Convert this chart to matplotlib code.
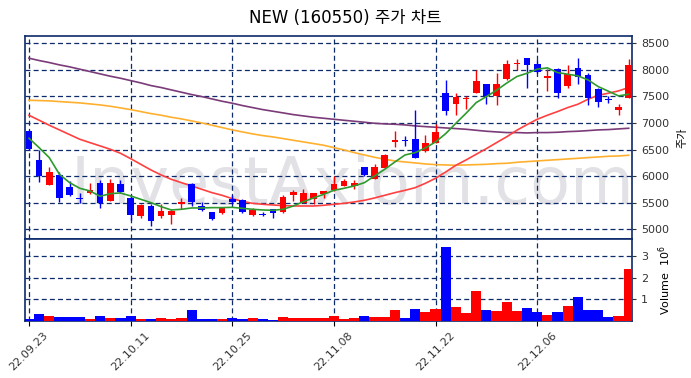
import numpy as np
import matplotlib
matplotlib.use("Agg")
import matplotlib.pyplot as plt

plt.rcParams['font.family'] = ['DejaVu Sans', 'Noto Sans CJK KR']

# trading dates shown as tick labels (every 10 sessions)
tick_idx = [0, 10, 20, 30, 40, 50]
tick_labels = ['22.09.23', '22.10.11', '22.10.25', '22.11.08', '22.11.22', '22.12.06']

opens = [6850, 6304, 5840, 6016, 5796, 5595, 5677, 5877, 5539, 5859,
         5589, 5250, 5438, 5250, 5263, 5470, 5852, 5438, 5325, 5300,
         5564, 5551, 5263, 5294, 5376, 5332, 5652, 5501, 5564, 5670,
         5739, 5821, 5815, 6166, 5953, 6160, 6643, 6674, 6693, 6473,
         6630, 7559, 7352, 7446, 7559, 7728, 7509, 7822, 8105, 8218,
         8105, 7841, 8011, 7697, 8030, 7898, 7647, 7458, 7245, 7477]
closes = [6505, 6010, 6078, 5595, 5639, 5576, 5733, 5501, 5877, 5702,
          5269, 5457, 5156, 5344, 5344, 5507, 5514, 5357, 5187, 5394,
          5514, 5325, 5357, 5263, 5300, 5608, 5708, 5683, 5683, 5721,
          5852, 5909, 5877, 6022, 6179, 6398, 6674, 6655, 6348, 6618,
          6831, 7233, 7490, 7477, 7791, 7509, 7728, 8105, 8136, 8086,
          7960, 7879, 7559, 7917, 7866, 7477, 7402, 7427, 7302, 8092]
highs = [6860, 6486, 6179, 6078, 5909, 5689, 5865, 5928, 5940, 5921,
         5639, 5470, 5470, 5470, 5388, 5595, 5877, 5520, 5325, 5407,
         5652, 5564, 5407, 5332, 5388, 5652, 5739, 5764, 5683, 5721,
         6003, 5953, 5928, 6166, 6222, 6423, 6850, 6756, 7245, 6781,
         6975, 7810, 7559, 7509, 7992, 7728, 7948, 8186, 8211, 8218,
         8186, 8011, 8030, 8092, 8218, 7948, 7666, 7509, 7364, 8199]
lows = [6500, 5890, 5840, 5514, 5627, 5488, 5658, 5394, 5527, 5689,
        5168, 5219, 5062, 5219, 5093, 5376, 5438, 5344, 5175, 5281,
        5470, 5313, 5250, 5250, 5219, 5300, 5532, 5489, 5470, 5583,
        5721, 5821, 5752, 6003, 5940, 6160, 6549, 6568, 6340, 6454,
        6618, 7145, 7145, 7258, 7559, 7352, 7333, 7810, 7992, 7666,
        7948, 7603, 7477, 7666, 7728, 7339, 7308, 7371, 7145, 7465]
volumes = [0.09, 0.32, 0.23, 0.18, 0.18, 0.18, 0.09, 0.23, 0.14, 0.14,
           0.23, 0.09, 0.09, 0.14, 0.09, 0.14, 0.51, 0.09, 0.09, 0.09,
           0.14, 0.09, 0.14, 0.09, 0.05, 0.18, 0.14, 0.14, 0.14, 0.14,
           0.23, 0.09, 0.14, 0.25, 0.20, 0.20, 0.51, 0.14, 0.55, 0.42,
           0.55, 3.42, 0.66, 0.37, 1.38, 0.51, 0.46, 0.88, 0.46, 0.60,
           0.42, 0.28, 0.42, 0.69, 1.11, 0.51, 0.51, 0.18, 0.23, 2.40]

ma5 = [6712, 6536, 6348, 6034, 5877, 5771, 5721, 5620, 5670, 5683,
       5627, 5564, 5501, 5426, 5363, 5376, 5401, 5401, 5407, 5407,
       5413, 5394, 5376, 5363, 5357, 5376, 5438, 5520, 5589, 5658,
       5733, 5771, 5815, 5877, 6003, 6128, 6266, 6398, 6442, 6530,
       6643, 6800, 6994, 7182, 7383, 7496, 7615, 7750, 7873, 7935,
       8011, 8036, 7948, 7917, 7885, 7810, 7684, 7597, 7509, 7540]
ma20 = [7145, 7051, 6957, 6869, 6781, 6693, 6630, 6568, 6505, 6430,
        6329, 6222, 6116, 6022, 5940, 5877, 5815, 5752, 5689, 5639,
        5576, 5526, 5488, 5470, 5457, 5445, 5438, 5438, 5438, 5451,
        5470, 5488, 5514, 5545, 5589, 5639, 5689, 5733, 5783, 5865,
        5959, 6078, 6204, 6304, 6411, 6517, 6630, 6740, 6863, 6969,
        7069, 7145, 7214, 7289, 7352, 7446, 7521, 7559, 7603, 7666]
ma60 = [7427, 7421, 7415, 7402, 7389, 7377, 7358, 7339, 7314, 7283,
        7251, 7214, 7176, 7145, 7107, 7076, 7038, 7000, 6957, 6913,
        6869, 6831, 6794, 6762, 6737, 6706, 6674, 6643, 6612, 6580,
        6536, 6492, 6442, 6398, 6354, 6317, 6285, 6266, 6248, 6229,
        6216, 6210, 6204, 6210, 6216, 6222, 6235, 6241, 6260, 6273,
        6285, 6298, 6310, 6323, 6335, 6348, 6360, 6373, 6379, 6392]
ma120 = [8218, 8174, 8136, 8092, 8055, 8011, 7967, 7923, 7879, 7841,
         7797, 7753, 7703, 7666, 7622, 7578, 7534, 7496, 7452, 7408,
         7371, 7327, 7289, 7251, 7220, 7189, 7157, 7132, 7107, 7088,
         7069, 7050, 7032, 7013, 6994, 6982, 6975, 6963, 6944, 6931,
         6919, 6906, 6894, 6881, 6862, 6844, 6831, 6819, 6819, 6812,
         6819, 6819, 6825, 6837, 6844, 6856, 6869, 6875, 6888, 6900]

o = np.array(opens); c = np.array(closes)
h = np.array(highs); l = np.array(lows)
x = np.arange(len(o))
cols = np.where(c >= o, '#ff0000', '#0000ff')

navy = '#0d2a6b'
fig = plt.figure(figsize=(6.91, 3.78), dpi=100)
ax = fig.add_axes([0.036, 0.367, 0.879, 0.538])
axv = fig.add_axes([0.036, 0.151, 0.879, 0.216], sharex=ax)

# watermark
ax.text(0.54, 0.26, 'InvestAxiom.com', transform=ax.transAxes, ha='center', va='center',
        fontsize=47, color='#dcdce2', zorder=0, alpha=0.85)

ax.plot(x, ma120, color='#7a3b78', lw=1.2, zorder=2)
ax.plot(x, ma60, color='#ffb02e', lw=1.2, zorder=2)
ax.plot(x, ma20, color='#ff4040', lw=1.2, zorder=2)
ax.plot(x, ma5, color='#2e9a2e', lw=1.2, zorder=4)

ax.vlines(x, l, h, colors=cols, lw=1.0, zorder=3)
body = np.abs(c - o)
body = np.maximum(body, 12)
ax.bar(x, body, bottom=np.minimum(o, c), width=0.65, color=cols, zorder=3)

axv.bar(x, volumes, width=1.0, color=cols, zorder=3)

ax.set_xlim(-0.4, 59.35)
ax.set_ylim(4812, 8637)
axv.set_ylim(0, 3.77)
ax.set_yticks(range(5000, 8501, 500))
axv.set_yticks([1, 2, 3])
axv.set_xticks(tick_idx)
axv.set_xticklabels(tick_labels, rotation=45, fontsize=8, color='#333333')
plt.setp(ax.get_xticklabels(), visible=False)

for a in (ax, axv):
    a.yaxis.tick_right()
    a.yaxis.set_label_position('right')
    a.tick_params(axis='y', labelsize=8, length=3, colors='#333333')
    a.grid(True, color=navy, linestyle=(0, (4, 2.5)), lw=0.9)
    for s in a.spines.values():
        s.set_color(navy)
        s.set_linewidth(1.2)
    a.set_axisbelow(True)
ax.tick_params(axis='x', length=0)

ax.set_ylabel('주가', fontsize=8, labelpad=6)
axv.set_ylabel('Volume  $10^6$', fontsize=8, labelpad=6)
fig.suptitle('NEW (160550) 주가 차트', fontsize=12, y=0.975)

fig.savefig('out.png', dpi=100)
